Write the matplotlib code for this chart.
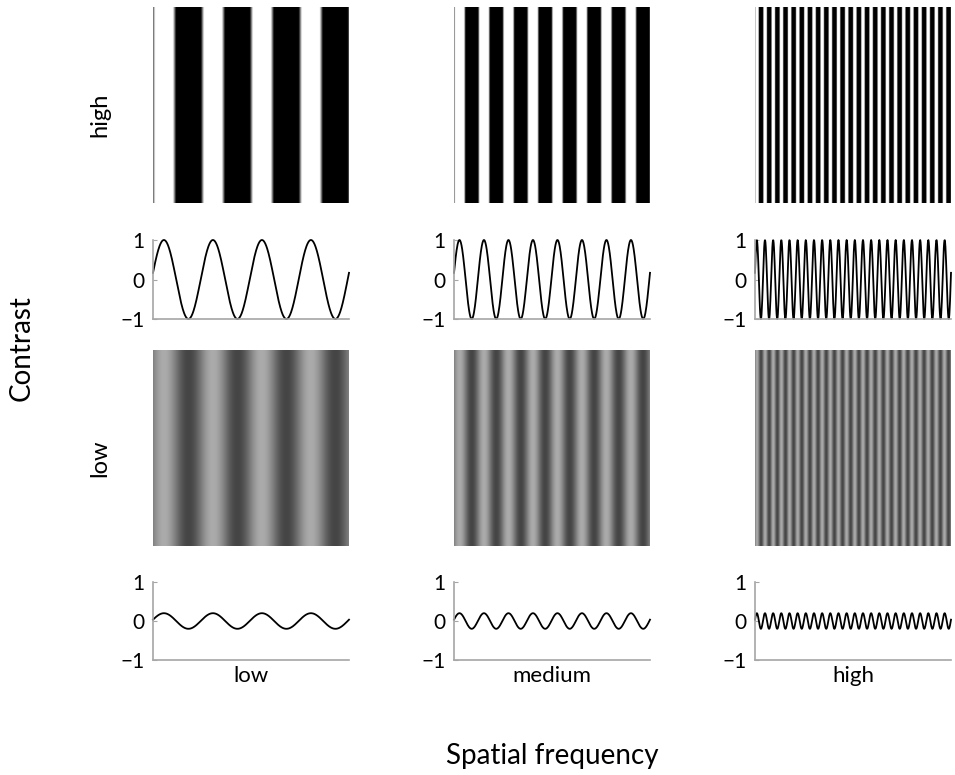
import numpy as np
import matplotlib
matplotlib.use('Agg')
from matplotlib import pyplot as plt

plt.rcParams['font.family'] = ['Lato', 'DejaVu Sans']

# grating parameters
freq_labels = ['low', 'medium', 'high']
cycles = [4, 8, 24]            # cycles across each panel
contrast_labels = ['high', 'low']
amplitudes = [1.0, 0.2]        # sine amplitude in the line plots
img_mid = [-0.05, 0.47]        # grey level offset of each image row
img_gain = [2.5, 1.0]          # display gain of each image row
phase = 0.17
yticks = [-1, 0, 1]

fig = plt.figure(figsize=(9.55, 7.75), dpi=100)
W, H = 955.0, 775.0

col_x = [153, 454, 755]
col_w = 196
img_rows = [(7, 203), (350, 546)]
line_rows = [(240, 319), (582, 660)]

def box(x0, y0, x1, w):
    return [x0 / W, 1 - x1 / H, w / W, (x1 - y0) / H]

x = np.linspace(0, 1, 600)

for r in range(2):
    for c in range(3):
        theta = 2 * np.pi * cycles[c] * x + phase
        wave = amplitudes[r] * np.sin(theta)

        # image of the grating
        ax = fig.add_axes(box(col_x[c], img_rows[r][0], img_rows[r][1], col_w))
        grey = np.clip(img_mid[r] + img_gain[r] * wave, 0, 1)
        ax.imshow(np.tile(grey, (20, 1)), cmap='gray', vmin=0, vmax=1,
                  aspect='auto', interpolation='bilinear', extent=[0, 1, 0, 1])
        ax.axis('off')
        if c == 0:
            ax.text(-0.27, 0.45, contrast_labels[r], rotation=90, fontsize=17,
                    ha='center', va='center', transform=ax.transAxes)

        # profile
        ax = fig.add_axes(box(col_x[c], line_rows[r][0], line_rows[r][1], col_w))
        ax.plot(x, wave, color='black', lw=1.3, clip_on=False)
        ax.set_xlim(0, 1)
        ax.set_ylim(-1, 1)
        ax.set_yticks(yticks)
        ax.set_yticklabels(['\u22121', '0', '1'], fontsize=15)
        ax.set_xticks([])
        for s in ['top', 'right']:
            ax.spines[s].set_visible(False)
        for s in ['left', 'bottom']:
            ax.spines[s].set_color('0.65')
            ax.spines[s].set_linewidth(1.2)
        ax.tick_params(axis='y', direction='in', length=3, color='0.65', pad=6)
        if r == 1:
            ax.set_xlabel(freq_labels[c], fontsize=16, labelpad=4)

fig.text(22 / W, 1 - 348 / H, 'Contrast', rotation=90, fontsize=20,
         ha='center', va='center')
fig.text(552 / W, 1 - 756 / H, 'Spatial frequency', fontsize=20,
         ha='center', va='center')

fig.savefig('out.png', dpi=100)
